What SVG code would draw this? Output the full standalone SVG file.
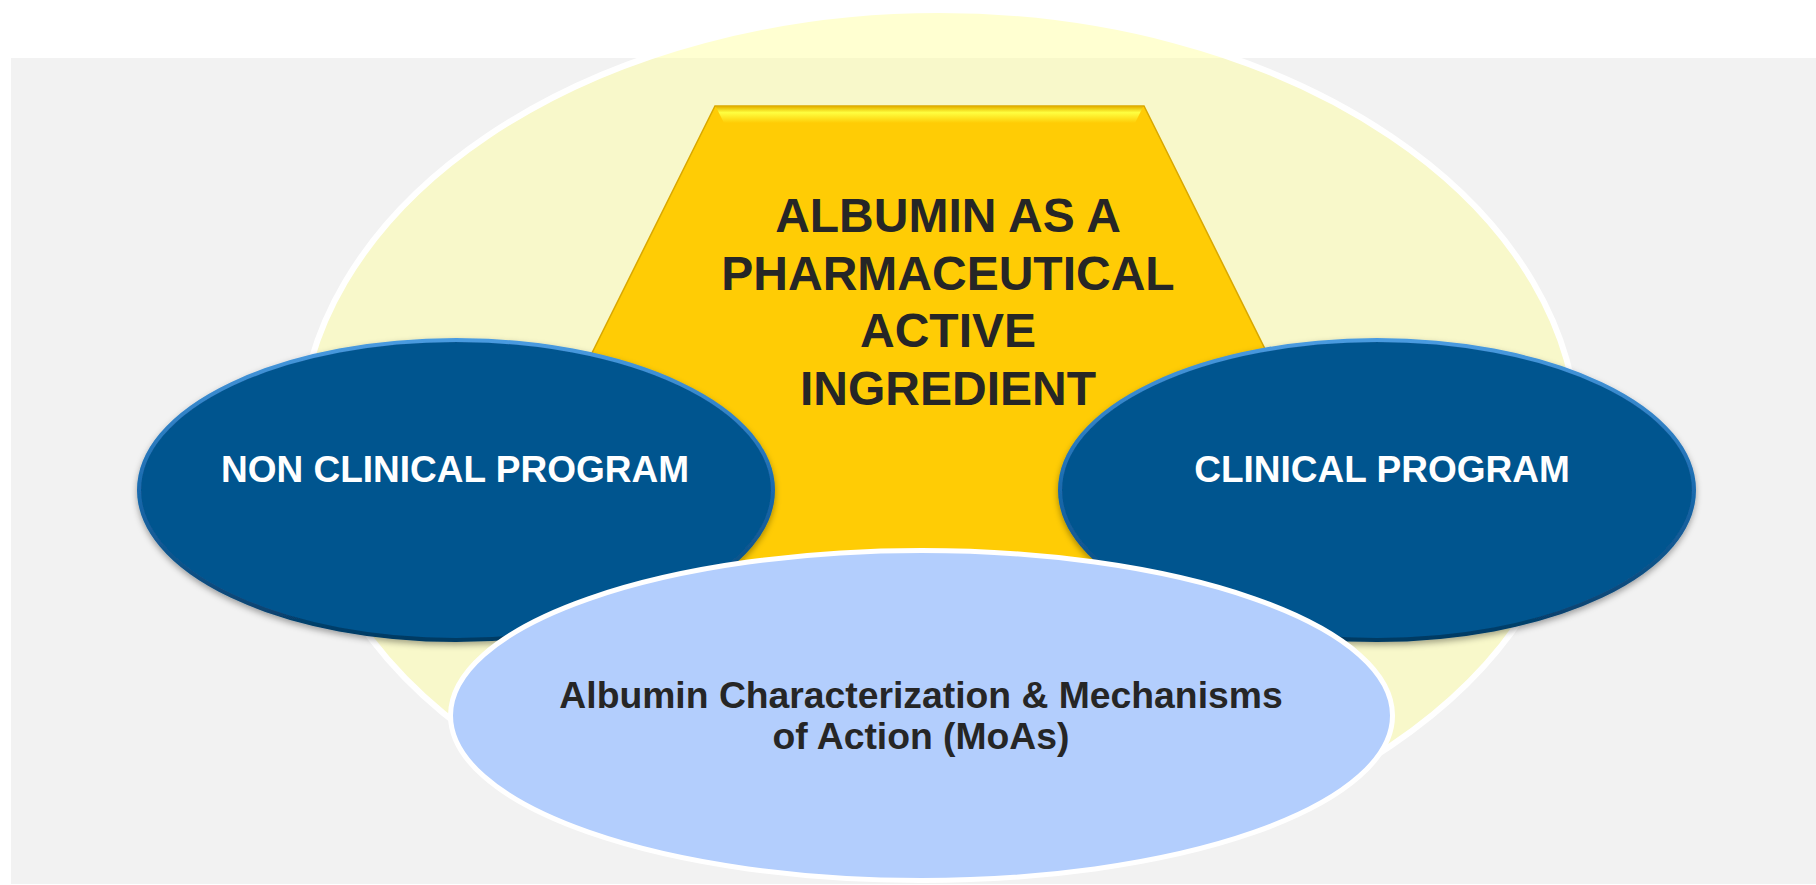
<svg xmlns="http://www.w3.org/2000/svg" width="1816" height="885" viewBox="0 0 1816 885">
<style>
.title{font-family:"Liberation Sans",Arial,sans-serif;font-weight:bold;font-size:48px;fill:#262626;text-anchor:middle}
.prog{font-family:"Liberation Sans",Arial,sans-serif;font-weight:bold;font-size:37px;fill:#ffffff;text-anchor:middle}
.moa{font-family:"Liberation Sans",Arial,sans-serif;font-weight:bold;font-size:37.3px;fill:#262626;text-anchor:middle}
.blue{fill:#06558F;stroke:url(#rim);stroke-width:4;filter:url(#shadow)}
</style>
<defs>
<linearGradient id="rim" x1="0" y1="0" x2="0" y2="1">
<stop offset="0" stop-color="#4A9BE0"/>
<stop offset="0.5" stop-color="#1A6AAE"/>
<stop offset="1" stop-color="#033A63"/>
</linearGradient>
<linearGradient id="bevel" x1="0" y1="0" x2="0" y2="1">
<stop offset="0" stop-color="#E8B800"/>
<stop offset="0.35" stop-color="#FFFF40"/>
<stop offset="1" stop-color="#FFCC05"/>
</linearGradient>
<filter id="shadow" x="-10%" y="-10%" width="120%" height="130%">
<feDropShadow dx="0" dy="3" stdDeviation="3" flood-color="#000000" flood-opacity="0.35"/>
</filter>
</defs>
<rect x="11" y="58" width="1805" height="826" fill="#F2F2F2"/>
<g id="outer">
<ellipse cx="939" cy="441" rx="639" ry="431" fill="#FFFF99" fill-opacity="0.45" stroke="#FFFFFF" stroke-width="6"/>
</g>
<g id="center">
<polygon points="715,106 1144,106 1400,620 459,620" fill="#FFCC05" stroke="#D9A800" stroke-width="1.5"/>
<polygon points="716,107 1143,107 1135,123 724,123" fill="url(#bevel)"/>
<text class="title" x="948" y="232">ALBUMIN AS A</text>
<text class="title" x="948" y="290">PHARMACEUTICAL</text>
<text class="title" x="948" y="347">ACTIVE</text>
<text class="title" x="948" y="405">INGREDIENT</text>
</g>
<g id="nonclinical">
<ellipse class="blue" cx="456" cy="490" rx="317" ry="150"/>
<text class="prog" x="455" y="482">NON CLINICAL PROGRAM</text>
</g>
<g id="clinical">
<ellipse class="blue" cx="1377" cy="490" rx="317" ry="150"/>
<text class="prog" x="1382" y="482">CLINICAL PROGRAM</text>
</g>
<g id="moa">
<ellipse cx="921.5" cy="715.5" rx="471" ry="165" fill="#B3CEFD" stroke="#FFFFFF" stroke-width="5"/>
<text class="moa" x="921" y="708">Albumin Characterization &amp; Mechanisms</text>
<text class="moa" x="921" y="749">of Action (MoAs)</text>
</g>
<g id="connectors"/>
</svg>
